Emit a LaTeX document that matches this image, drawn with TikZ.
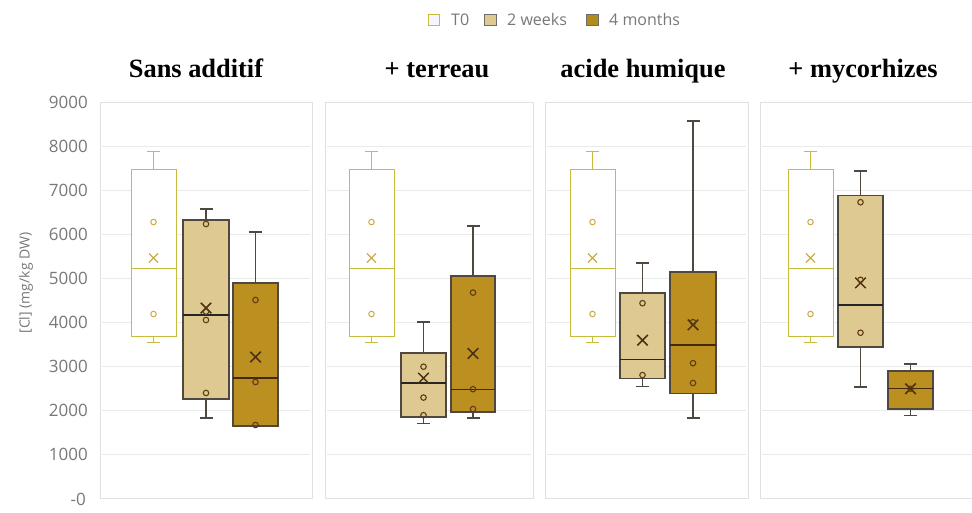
\documentclass[tikz,border=0pt]{standalone}
\usepackage{fontspec}
\setmainfont{Liberation Serif}
\newfontfamily\axfont{Open Sans}
\usetikzlibrary{shapes.misc}
\definecolor{tzline}{RGB}{200,188,60}
\definecolor{tzpt}{RGB}{205,170,70}
\definecolor{wkfill}{RGB}{222,202,145}
\definecolor{mofill}{RGB}{188,144,32}
\definecolor{dkline}{RGB}{78,72,64}
\definecolor{ptcol}{RGB}{95,60,20}
\definecolor{gridc}{RGB}{234,234,234}
\definecolor{panelc}{RGB}{225,225,225}
\definecolor{axtext}{RGB}{120,120,120}
\tikzset{
  t0 line/.style={draw=tzline, line width=1pt},
  t0 box/.style={draw=tzline, fill=white, line width=1pt},
  t0 mean/.style={cross out, draw=tzpt, line width=1.1pt, minimum size=8pt, inner sep=0pt},
  t0 pt/.style={circle, draw=tzpt, line width=1pt, minimum size=5.5pt, inner sep=0pt},
  wk line/.style={draw=dkline, line width=1.2pt},
  wk box/.style={draw=dkline, fill=wkfill, line width=1.3pt},
  wk mean/.style={cross out, draw=ptcol!80!black, line width=1.5pt, minimum size=9pt, inner sep=0pt},
  wk pt/.style={circle, draw=ptcol, line width=1.1pt, minimum size=5.5pt, inner sep=0pt},
  mo line/.style={draw=dkline, line width=1.2pt},
  mo box/.style={draw=dkline, fill=mofill, line width=1.3pt},
  mo mean/.style={cross out, draw=ptcol!80!black, line width=1.5pt, minimum size=9pt, inner sep=0pt},
  mo pt/.style={circle, draw=ptcol, line width=1.1pt, minimum size=5.5pt, inner sep=0pt},
  med t0/.style={draw=tzline, line width=1pt},
  med wk/.style={draw=black!85, line width=1.3pt},
  med mo/.style={draw=ptcol!70!black, line width=1.3pt},
  panel/.style={draw=panelc, fill=white, line width=1pt},
  gridl/.style={draw=gridc, line width=0.8pt},
  title/.style={font=\fontsize{26.4}{30}\selectfont\bfseries, anchor=base},
  tick/.style={font=\axfont\fontsize{17}{19}\selectfont, text=axtext, anchor=east, inner sep=0pt},
  legtext/.style={font=\axfont\fontsize{16}{18}\selectfont, text=axtext, anchor=west, inner sep=0pt},
}
% #1 left, #2 right, #3 wl, #4 q1, #5 med, #6 q3, #7 wh, #8 mean, #9 style
\newcommand\bxp[9]{%
  \pgfmathsetmacro\xc{(#1+#2)/2}%
  \draw[#9 line] (\xc,#3) -- (\xc,#4) (\xc,#6) -- (\xc,#7);
  \draw[#9 line] (\xc-6.5,#3) -- (\xc+6.5,#3) (\xc-6.5,#7) -- (\xc+6.5,#7);
  \draw[#9 box] (#1,#4) rectangle (#2,#6);
  \draw[med #9] (#1,#5) -- (#2,#5);
  \node[#9 mean] at (\xc,#8) {};
}
\newcommand\pts[3]{% #1 center x, #2 list, #3 style
  \foreach \v in {#2} {\node[#3 pt] at (#1,\v) {};}
}
\begin{document}
\begin{tikzpicture}[x=1pt,y=1pt]
\useasboundingbox (0,0) rectangle (972,513);
\fill[white] (0,0) rectangle (972,513);
% legend
\draw[draw=tzline, fill=blue!4, line width=0.8pt] (428,488) rectangle (439,499);
\node[legtext] (lt0) at (451,493.5) {T0};
\draw[draw=dkline!80, fill=wkfill, line width=0.8pt] (484,488) rectangle (496,499);
\node[legtext] (lwk) at (507,493.5) {2 weeks};
\draw[draw=dkline!80, fill=mofill!80!olive, line width=0.8pt] (586,488) rectangle (598,499);
\node[legtext] (lmo) at (609,493.5) {4 months};
% titles
\node[title] (t1) at (196,435) {Sans additif};
\node[title] (t2) at (437,435) {+ terreau};
\node[title] (t3) at (643,435) {acide humique};
\node[title] (t4) at (863,435) {+ mycorhizes};
% axis label
\node[font=\axfont\fontsize{14}{16}\selectfont, text=axtext, rotate=90] (ylab) at (26,230) {[Cl] (mg/kg DW)};
\begin{scope}[shift={(0,14)}, y=0.0441pt]
  % ticks
  \foreach \v in {1000,2000,...,9000} {\node[tick] at (88,\v) {\v};}
  \node[tick] at (86,0) {-0};
  % panels
  \foreach \a/\b in {100/312, 325/533, 545/748, 760/985} {
    \draw[panel] (\a,0) rectangle (\b,9000);
    \foreach \v in {1000,2000,...,8000} {\draw[gridl] (\a+2,\v) -- (\b-2,\v);}
  }
  % Panel 1: Sans additif
  \bxp{131}{176}{3560}{3696}{5238}{7483}{7870}{5465}{t0}
  \pts{153.5}{6280,4195}{t0}
  \bxp{183}{229}{1837}{2268}{4172}{6327}{6576}{4330}{wk}
  \pts{206}{6236,4059,2404,4250}{wk}
  \bxp{233}{278}{1655}{1655}{2744}{4898}{6054}{3220}{mo}
  \pts{255.5}{4512,2653,1678}{mo}
  % Panel 2: + terreau
  \bxp{349}{394}{3560}{3696}{5238}{7483}{7870}{5465}{t0}
  \pts{371.5}{6280,4195}{t0}
  \bxp{401}{446}{1720}{1860}{2630}{3310}{4014}{2740}{wk}
  \pts{423.5}{3000,2300,1900}{wk}
  \bxp{451}{495}{1836}{1970}{2490}{5057}{6190}{3300}{mo}
  \pts{473}{4680,2490,2040}{mo}
  % Panel 3: acide humique
  \bxp{570}{615}{3560}{3696}{5238}{7483}{7870}{5465}{t0}
  \pts{592.5}{6280,4195}{t0}
  \bxp{620}{665}{2560}{2740}{3170}{4670}{5350}{3600}{wk}
  \pts{642.5}{4440,2810}{wk}
  \bxp{670}{716}{1836}{2400}{3490}{5150}{8570}{3950}{mo}
  \pts{693}{4010,3080,2630}{mo}
  % Panel 4: + mycorhizes
  \bxp{788}{833}{3560}{3696}{5238}{7483}{7870}{5465}{t0}
  \pts{810.5}{6280,4195}{t0}
  \bxp{838}{883}{2540}{3450}{4400}{6890}{7440}{4900}{wk}
  \pts{860.5}{6730,3770,4970}{wk}
  \bxp{888}{933}{1900}{2040}{2500}{2900}{3060}{2500}{mo}
  \pts{910.5}{2500}{mo}
\end{scope}
\end{tikzpicture}
\end{document}
